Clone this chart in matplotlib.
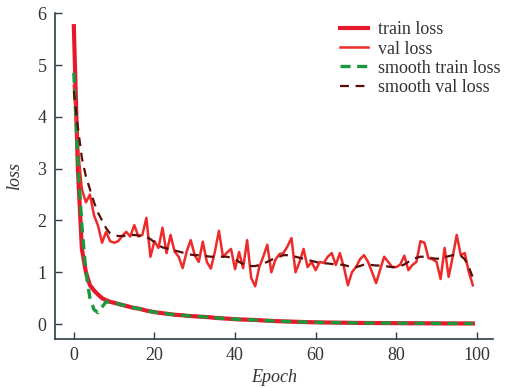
import matplotlib
matplotlib.use("Agg")
import matplotlib.pyplot as plt
import numpy as np

plt.rcParams["font.family"] = ["Liberation Serif", "DejaVu Serif"]

# Loss values
train_loss = [
    5.75, 3.0, 1.45, 1.0, 0.75, 0.65, 0.57, 0.5, 0.46, 0.43,
    0.41, 0.39, 0.37, 0.35, 0.33, 0.31, 0.3, 0.28, 0.26, 0.245,
    0.23, 0.22, 0.21, 0.2, 0.19, 0.18, 0.175, 0.17, 0.16, 0.155,
    0.15, 0.145, 0.14, 0.135, 0.13, 0.12, 0.115, 0.11, 0.105, 0.1,
    0.095, 0.09, 0.088, 0.085, 0.082, 0.08, 0.075, 0.07, 0.066, 0.062,
    0.058, 0.055, 0.052, 0.05, 0.047, 0.045, 0.043, 0.04, 0.038, 0.036,
    0.034, 0.032, 0.031, 0.03, 0.029, 0.028, 0.027, 0.026, 0.025, 0.024,
    0.023, 0.022, 0.022, 0.021, 0.021, 0.02, 0.02, 0.019, 0.019, 0.018,
    0.018, 0.017, 0.017, 0.016, 0.016, 0.016, 0.015, 0.015, 0.015, 0.014,
    0.014, 0.014, 0.013, 0.013, 0.013, 0.013, 0.012, 0.012, 0.012, 0.012,
]
val_loss = [
    4.6, 3.4, 2.6, 2.35, 2.5, 2.1, 1.9, 1.57, 1.78, 1.6,
    1.57, 1.6, 1.7, 1.78, 1.69, 1.91, 1.69, 1.72, 2.05, 1.3,
    1.6, 1.47, 1.86, 1.37, 1.72, 1.4, 1.3, 1.08, 1.4, 1.62,
    1.33, 1.2, 1.59, 1.2, 1.07, 1.4, 1.8, 1.3, 1.38, 1.45,
    1.06, 1.39, 1.08, 1.62, 0.89, 0.73, 1.1, 1.3, 1.53, 1.0,
    1.24, 1.35, 1.37, 1.5, 1.66, 1.0, 1.2, 1.45, 1.1, 1.2,
    1.04, 1.2, 1.18, 1.3, 1.37, 1.14, 1.37, 1.1, 0.75, 1.0,
    1.1, 1.25, 1.33, 1.2, 1.0, 0.79, 1.05, 1.3, 1.2, 1.1,
    1.1, 1.15, 1.32, 1.04, 1.14, 1.2, 1.6, 1.57, 1.27, 1.25,
    1.2, 0.87, 1.47, 0.91, 1.3, 1.72, 1.33, 1.37, 1.0, 0.75,
]
smooth_train_loss = [
    4.85, 3.1, 1.9, 1.0, 0.5, 0.28, 0.22, 0.33, 0.43, 0.42,
    0.41, 0.39, 0.37, 0.35, 0.33, 0.31, 0.3, 0.28, 0.26, 0.245,
    0.23, 0.22, 0.21, 0.2, 0.19, 0.18, 0.175, 0.17, 0.16, 0.155,
    0.15, 0.145, 0.14, 0.135, 0.13, 0.12, 0.115, 0.11, 0.105, 0.1,
    0.095, 0.09, 0.088, 0.085, 0.082, 0.08, 0.075, 0.07, 0.066, 0.062,
    0.058, 0.055, 0.052, 0.05, 0.047, 0.045, 0.043, 0.04, 0.038, 0.036,
    0.034, 0.032, 0.031, 0.03, 0.029, 0.028, 0.027, 0.026, 0.025, 0.024,
    0.023, 0.022, 0.022, 0.021, 0.021, 0.02, 0.02, 0.019, 0.019, 0.018,
    0.018, 0.017, 0.017, 0.016, 0.016, 0.016, 0.015, 0.015, 0.015, 0.014,
    0.014, 0.014, 0.013, 0.013, 0.013, 0.013, 0.012, 0.012, 0.012, 0.012,
]
smooth_val_loss = [
    4.5, 3.8, 3.2, 2.85, 2.6, 2.35, 2.15, 2.0, 1.85, 1.75,
    1.72, 1.7, 1.7, 1.7, 1.72, 1.72, 1.71, 1.7, 1.68, 1.64,
    1.58, 1.52, 1.48, 1.46, 1.44, 1.42, 1.4, 1.38, 1.36, 1.34,
    1.33, 1.33, 1.32, 1.31, 1.3, 1.3, 1.3, 1.3, 1.3, 1.28,
    1.25, 1.2, 1.16, 1.13, 1.12, 1.12, 1.14, 1.17, 1.2, 1.24,
    1.27, 1.3, 1.33, 1.33, 1.32, 1.3, 1.28, 1.26, 1.24, 1.22,
    1.2, 1.18, 1.17, 1.17, 1.16, 1.15, 1.15, 1.14, 1.12, 1.11,
    1.1, 1.12, 1.15, 1.15, 1.14, 1.13, 1.13, 1.12, 1.11, 1.1,
    1.1, 1.12, 1.15, 1.2, 1.25, 1.28, 1.3, 1.3, 1.29, 1.27,
    1.26, 1.27, 1.29, 1.31, 1.33, 1.34, 1.32, 1.25, 1.1, 0.9,
]
epochs = np.arange(len(train_loss))

fig = plt.figure(figsize=(5.13, 3.88), dpi=100)
ax = fig.add_axes([0.107, 0.126, 0.854, 0.84])

ax.plot(epochs, train_loss, color="#e8182c", lw=3.0, label="train loss")
ax.plot(epochs, val_loss, color="#ee2a2a", lw=1.8, label="val loss")
ax.plot(epochs, smooth_train_loss, color="#189a3c", lw=2.4, ls=(0, (3, 2)),
        label="smooth train loss")
ax.plot(epochs, smooth_val_loss, color="#5a0c08", lw=1.6, ls=(0, (4, 3)),
        label="smooth val loss")

ax.set_xlim(-4.7, 104)
ax.set_ylim(-0.29, 6.0)
ax.set_xticks([0, 20, 40, 60, 80, 100])
ax.set_yticks([0, 1, 2, 3, 4, 5, 6])

for side in ["top", "right"]:
    ax.spines[side].set_visible(False)
for side in ["left", "bottom"]:
    ax.spines[side].set_color("#2c3e46")
    ax.spines[side].set_linewidth(1.2)
ax.tick_params(direction="in", length=5, width=1.0, color="#2c3e46",
               labelsize=13, labelcolor="#333333", pad=6)

ax.set_xlabel("Epoch", fontsize=13, style="italic", color="#333333", labelpad=3)
ax.set_ylabel("loss", fontsize=13, style="italic", color="#333333", labelpad=10)

ax.legend(loc="upper left", bbox_to_anchor=(0.663, 0.945),
          bbox_transform=fig.transFigure, frameon=False, borderpad=0,
          borderaxespad=0, fontsize=13, handlelength=1.55, handletextpad=0.55,
          labelspacing=0.12, labelcolor="#333333")

fig.savefig("out.png", dpi=100)
